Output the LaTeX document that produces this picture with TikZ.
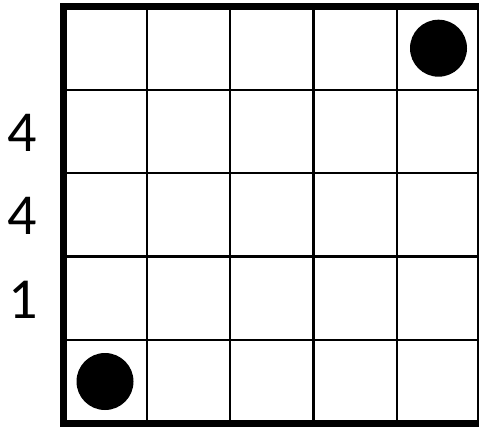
\documentclass[tikz,border=0pt]{standalone}
\usepackage{fontspec}
\setmainfont{Carlito}
\begin{document}
\begin{tikzpicture}[x=1pt,y=-1pt,
  thinline/.style={line width=2.3pt,black},
  frame/.style={line width=7pt,black},
  dot/.style={circle,fill=black,minimum size=57pt,inner sep=0pt},
  clue/.style={font=\fontsize{58}{60}\selectfont,inner sep=0pt,anchor=center}]
\useasboundingbox (0,0) rectangle (479,426);
\fill[white] (0,0) rectangle (479,426);
\def\cs{83.3}
\foreach \i in {1,...,4} {
  \draw[thinline] (63.5+\i*\cs,6.5) -- (63.5+\i*\cs,423);
  \draw[thinline] (63.5,6.5+\i*\cs) -- (480,6.5+\i*\cs);
}
\draw[frame] (63.5,6.5) rectangle (480,423);
\node[dot] (d1) at (438.5,48.2) {};
\node[dot] (d2) at (105,381.5) {};
\node[clue] (c1) at (22.5,133) {4};
\node[clue] (c2) at (22.5,216) {4};
\node[clue] (c3) at (23,299.5) {1};
\end{tikzpicture}
\end{document}
